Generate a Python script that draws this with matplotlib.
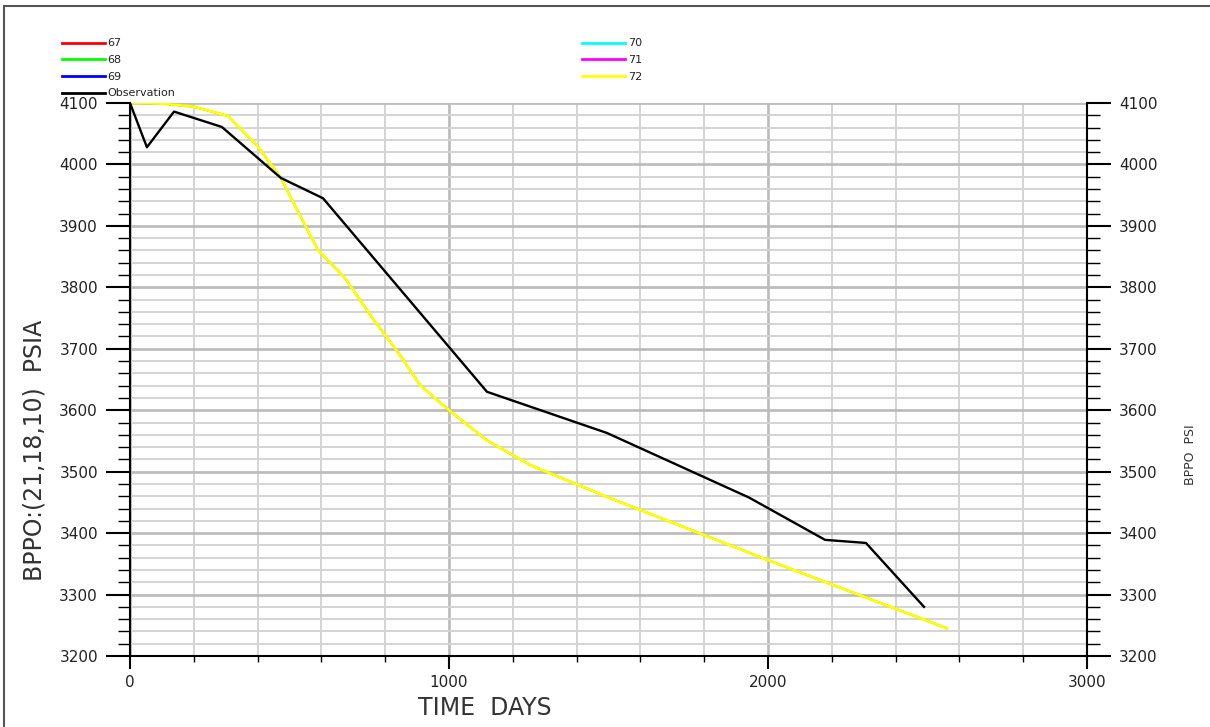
"""Pressure history plot: BPPO at block (21,18,10), simulation runs vs observation."""

import matplotlib

matplotlib.use("Agg")
import matplotlib.pyplot as plt
from matplotlib.patches import Rectangle
from matplotlib.ticker import MultipleLocator

plt.rcParams["font.family"] = "DejaVu Sans"

# --- data ----------------------------------------------------------------
obs_days = [0, 53, 138, 288, 473, 605, 1119, 1495, 1940, 2179, 2307, 2489]
obs_psi = [4100, 4028, 4086, 4061, 3978, 3945, 3630, 3563, 3458, 3389, 3384, 3280]

sim_days = [0, 100, 200, 307, 400, 473, 540, 589, 674, 760, 846, 909,
            1000, 1119, 1254, 1495, 2000, 2561]
sim_psi = [4100, 4099, 4094, 4079, 4030, 3978, 3910, 3861, 3815, 3750, 3690, 3641,
           3600, 3551, 3511, 3459, 3356, 3245]

run_names = ["67", "68", "69", "70", "71", "72"]
run_colors = ["#ff0000", "#00ff00", "#0000ff", "#00ffff", "#ff00ff", "#ffff00"]

INK = "#222222"
GRID_MINOR = "#d4d4d4"
GRID_MAJOR = "#bdbdbd"

W, H = 1210, 727
fig = plt.figure(figsize=(W / 100, H / 100), dpi=100)

# outer frame of the window
fig.patches.append(Rectangle((4 / W, -0.01), 1.2, 1 - 6 / H + 0.01, transform=fig.transFigure,
                             fill=False, edgecolor="#555555", lw=1.5))

ax = fig.add_axes([130 / W, 71 / H, (1087 - 130) / W, (656 - 103) / H])
ax.set_xlim(0, 3000)
ax.set_ylim(3200, 4100)

# grid
ax.xaxis.set_major_locator(MultipleLocator(1000))
ax.xaxis.set_minor_locator(MultipleLocator(200))
ax.yaxis.set_major_locator(MultipleLocator(100))
ax.yaxis.set_minor_locator(MultipleLocator(20))
ax.grid(which="minor", color=GRID_MINOR, lw=1.4)
ax.grid(which="major", color=GRID_MAJOR, lw=2.0)
ax.set_axisbelow(True)

handles = {}
for name, col in zip(run_names, run_colors):
    lw = 2.0 if name == "72" else 1.2
    (ln,) = ax.plot(sim_days, sim_psi, color=col, lw=lw, zorder=3)
    handles[name] = ln
(obs_ln,) = ax.plot(obs_days, obs_psi, color="black", lw=1.7, zorder=4)

ax.spines["top"].set_visible(False)
for s in ("left", "right", "bottom"):
    ax.spines[s].set_color("black")
    ax.spines[s].set_linewidth(1.5)

ax.tick_params(axis="y", which="major", direction="out", length=17, width=1.5,
               left=True, right=True, labelleft=True, labelright=True,
               labelsize=11, labelcolor=INK, pad=6)
ax.tick_params(axis="y", which="minor", direction="out", length=9, width=1.0,
               left=True, right=True)
ax.tick_params(axis="x", which="major", direction="out", length=9.5, width=1.5,
               labelsize=11, labelcolor=INK, pad=4)
ax.tick_params(axis="x", which="minor", direction="out", length=4.5, width=1.0)
ax.set_xticks([0, 1000, 2000, 3000])
ax.set_yticks(range(3200, 4101, 100))

# axis titles
fig.text(35 / W, 1 - 450 / H, "BPPO:(21,18,10)  PSIA", rotation=90, ha="center",
         va="center", fontsize=17, color="#333333")
fig.text(485 / W, 1 - 708 / H, "TIME  DAYS", ha="center", va="center", fontsize=17,
         color="#333333")
fig.text(1191 / W, 1 - 455 / H, "BPPO  PSI", rotation=90, ha="center", va="center",
         fontsize=9, color="#333333")

# legend
leg_handles = [handles["67"], handles["68"], handles["69"], obs_ln,
               handles["70"], handles["71"], handles["72"]]
leg_labels = ["67", "68", "69", "Observation", "70", "71", "72"]
leg = fig.legend(leg_handles, leg_labels, loc="upper left",
                 bbox_to_anchor=(62 / W, 1 - 38.5 / H), ncol=2, frameon=False,
                 fontsize=8, handlelength=3.9, handletextpad=0.2, labelspacing=0.6,
                 borderpad=0, borderaxespad=0, columnspacing=36.6, labelcolor=INK)
for ln in leg.get_lines():
    ln.set_linewidth(2.0)

fig.savefig("out.png", dpi=100)
